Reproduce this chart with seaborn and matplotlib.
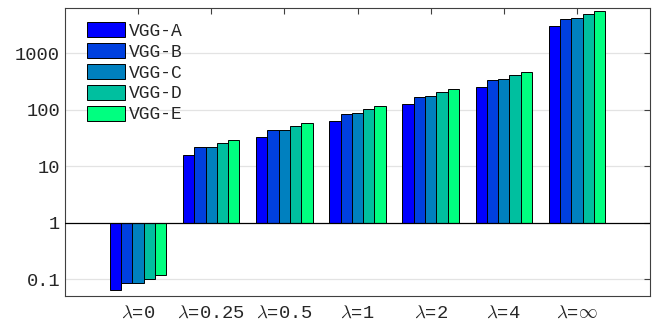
import numpy as np
import pandas as pd
import matplotlib
matplotlib.use('Agg')
import matplotlib.pyplot as plt
import seaborn as sns

# data (log-scale bars, baseline at 1)
lambdas = [r'$\lambda$=0', r'$\lambda$=0.25', r'$\lambda$=0.5', r'$\lambda$=1',
           r'$\lambda$=2', r'$\lambda$=4', r'$\lambda$=$\infty$']
models = ['VGG-A', 'VGG-B', 'VGG-C', 'VGG-D', 'VGG-E']
vgg_a = [0.063, 16, 32.5, 63, 126, 251, 3030]
vgg_b = [0.085, 22, 43, 85, 170, 340, 4080]
vgg_c = [0.086, 22, 43.5, 86, 172, 345, 4120]
vgg_d = [0.102, 25.7, 51, 102, 205, 404, 4880]
vgg_e = [0.117, 29.5, 59, 116, 231, 467, 5500]
colors = ['#0000FF', '#0040DF', '#0080BF', '#00BF9F', '#00FF80']

rows = []
for m, vals in zip(models, [vgg_a, vgg_b, vgg_c, vgg_d, vgg_e]):
    for lam, v in zip(lambdas, vals):
        rows.append({'lam': lam, 'model': m, 'logv': np.log10(v)})
df = pd.DataFrame(rows)

sns.set_style('white')
plt.rcParams['font.family'] = ['Liberation Mono', 'DejaVu Sans']
plt.rcParams['mathtext.fontset'] = 'cm'

fig = plt.figure(figsize=(6.62, 3.22), dpi=100)
ax = fig.add_axes([65/662, 26/322, 585/662, 288/322])

sns.barplot(data=df, x='lam', y='logv', hue='model', palette=colors,
            width=0.77, saturation=1, edgecolor='black', linewidth=0.7, ax=ax)

ax.set_xlim(-1, 7)
ax.set_ylim(-1.30, 3.80)
ax.set_yticks([-1, 0, 1, 2, 3])
ax.set_yticklabels(['0.1', '1', '10', '100', '1000'])
ax.set_xlabel('')
ax.set_ylabel('')

for y in [-1, 1, 2, 3]:
    ax.axhline(y, color='#e3e3e3', lw=0.9, zorder=0)
ax.axhline(0, color='black', lw=0.9, zorder=3)

for s in ax.spines.values():
    s.set_color('#404040')
    s.set_linewidth(0.8)
    s.set_visible(True)
ax.tick_params(direction='in', length=4, width=0.8, color='#404040',
               top=True, right=True, labelsize=13.5, labelcolor='#262626')
ax.tick_params(axis='x', pad=6)

h, l = ax.get_legend_handles_labels()
ax.legend(h, l, loc='upper left', bbox_to_anchor=(0.037, 0.95), frameon=False,
          fontsize=13, handlelength=2.1, handleheight=0.9, labelspacing=0.17,
          handletextpad=0.25, borderpad=0, borderaxespad=0)

fig.savefig('out.png', dpi=100)
